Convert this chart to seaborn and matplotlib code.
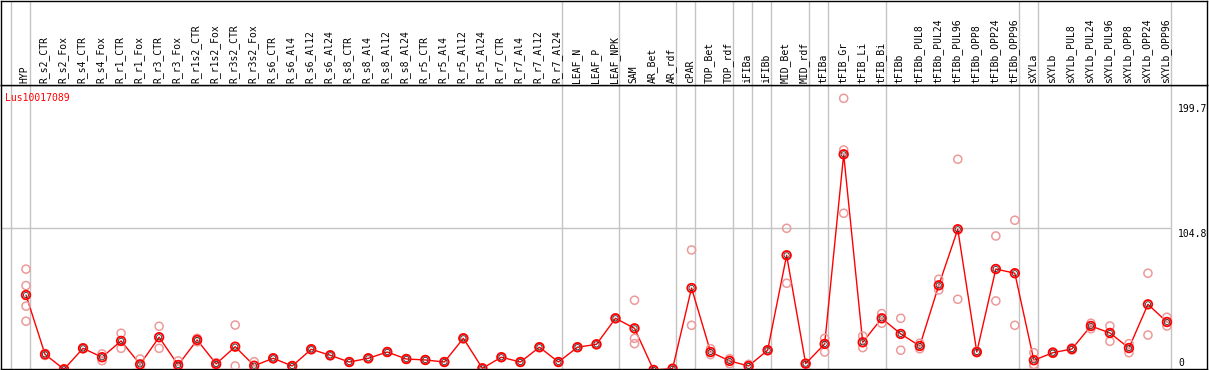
import numpy as np
import pandas as pd
import matplotlib
matplotlib.use("Agg")
import matplotlib.pyplot as plt
import seaborn as sns

# ---------------- data ----------------
samples = ["HYP", "R_s2_CTR", "R_s2_Fox", "R_s4_CTR", "R_s4_Fox", "R_r1_CTR", "R_r1_Fox",
           "R_r3_CTR", "R_r3_Fox", "R_r1s2_CTR", "R_r1s2_Fox", "R_r3s2_CTR", "R_r3s2_Fox",
           "R_s6_CTR", "R_s6_Al4", "R_s6_Al12", "R_s6_Al24", "R_s8_CTR", "R_s8_Al4",
           "R_s8_Al12", "R_s8_Al24", "R_r5_CTR", "R_r5_Al4", "R_r5_Al12", "R_r5_Al24",
           "R_r7_CTR", "R_r7_Al4", "R_r7_Al12", "R_r7_Al24", "LEAF_N", "LEAF_P", "LEAF_NPK",
           "SAM", "AR_Bet", "AR_rdf", "cPAR", "TOP_Bet", "TOP_rdf", "iFIBa", "iFIBb",
           "MID_Bet", "MID_rdf", "tFIBa", "tFIB_Gr", "tFIB_Li", "tFIB_Bi", "tFIBb",
           "tFIBb_PUL8", "tFIBb_PUL24", "tFIBb_PUL96", "tFIBb_OPP8", "tFIBb_OPP24",
           "tFIBb_OPP96", "sXYLa", "sXYLb", "sXYLb_PUL8", "sXYLb_PUL24", "sXYLb_PUL96",
           "sXYLb_OPP8", "sXYLb_OPP24", "sXYLb_OPP96"]

means = [56.1, 12.8, 1.9, 17.2, 10.7, 22.6, 5.5, 25.3, 5.0, 23.3, 5.8, 18.4, 4.5,
         9.9, 4.3, 16.5, 12.1, 7.2, 9.9, 14.5, 9.4, 8.7, 7.2, 24.5, 2.6,
         10.7, 7.2, 18.0, 7.2, 18.0, 20.1, 39.1,
         31.8, 1.4, 2.3, 61.2, 14.5, 8.0, 4.3, 15.8,
         85.1, 6.0, 20.4, 158.8, 21.6, 39.1, 27.7,
         18.9, 63.2, 104.1, 14.5, 75.1,
         72.0, 8.5, 14.0, 16.7, 33.5, 28.4,
         17.4, 49.3, 36.4]

replicates = [[75.0, 63.0, 48.0, 37.0], [13.5, 12.0], [1.9, 1.5], [17.5, 17.0], [13.1, 8.2],
              [28.2, 17.2], [9.4, 1.8], [33.3, 17.2], [8.0, 1.9], [24.5, 22.0], [6.7, 5.0],
              [34.2, 4.3], [7.4, 1.6], [10.2, 9.6], [4.5, 4.1], [16.8, 16.2], [12.4, 11.8],
              [7.4, 7.0], [10.1, 9.7], [14.8, 14.2], [9.6, 9.2], [8.9, 8.5], [7.4, 7.0],
              [24.8, 24.2], [2.8, 2.4], [10.9, 10.5], [7.4, 7.0], [18.2, 17.8], [7.4, 7.0],
              [18.2, 17.8], [20.3, 19.9], [39.3, 38.9],
              [52.3, 24.5, 20.6], [1.6, 1.2], [2.5, 2.1], [89.0, 34.0], [16.9, 12.6],
              [9.6, 6.0], [5.5, 3.5], [16.1, 15.5],
              [104.8, 64.7], [6.3, 5.7], [24.5, 14.5], [199.7, 162.0, 115.8], [26.2, 17.7],
              [42.5, 35.5], [39.1, 15.8],
              [20.9, 16.9], [67.6, 59.8], [155.2, 53.0], [15.0, 14.0], [99.2, 51.8],
              [110.7, 34.0], [14.0, 5.5, 4.8], [14.5, 13.5], [17.5, 16.0], [35.5, 31.5],
              [33.5, 22.3], [20.6, 14.0], [72.0, 26.9], [39.9, 33.5]]

group_ends = [-1, 0, 28, 31, 34, 35, 37, 38, 39, 41, 42, 45, 52, 53, 60]
gene = "Lus10017089"
tick_values = [0, 104.8, 199.7]
tick_labels = ["0", "104.8", "199.7"]

# ---------------- style ----------------
sns.set_theme(style="white")
plt.rcParams["font.family"] = ["DejaVu Sans Mono", "DejaVu Sans"]

W, H = 1209, 370
fig = plt.figure(figsize=(W / 100, H / 100), dpi=100)


def px_axes(l, t, r, b):
    return fig.add_axes([l / W, 1 - b / H, (r - l) / W, (b - t) / H])


ax = px_axes(1, 85, 1207, 369)
hax = px_axes(1, 0.5, 1207, 85)

x0px, step = 26.0, 19.016
xlim = ((1 - x0px) / step, (1207 - x0px) / step)
for a in (ax, hax):
    a.set_xlim(*xlim)
    a.set_xticks([])
    a.set_yticks([])
    a.set_facecolor("white")
    for sp in a.spines.values():
        sp.set_visible(True)
        sp.set_color("black")
        sp.set_linewidth(1.0)
hax.set_ylim(0, 1)
ax.set_ylim(2.1, 209.4)

grid_c = "#c4c4c4"
seps = [e + 0.2 for e in group_ends]
for s in seps:
    ax.axvline(s, color=grid_c, lw=1.0, zorder=0)
    hax.axvline(s, color=grid_c, lw=1.0, zorder=0)
ax.hlines(tick_values[1], xlim[0], seps[-1], color=grid_c, lw=1.0, zorder=0)

idx = np.arange(len(samples))
df_mean = pd.DataFrame({"pos": idx, "value": means})
rep_pos, rep_val = [], []
for i, reps in enumerate(replicates):
    for v in reps:
        rep_pos.append(i)
        rep_val.append(v)
df_rep = pd.DataFrame({"pos": rep_pos, "value": rep_val})

sns.lineplot(data=df_mean, x="pos", y="value", color="#ff0000", lw=1.0, ax=ax, zorder=2)
sns.scatterplot(data=df_rep, x="pos", y="value", ax=ax, marker="o", s=34,
                facecolor="none", edgecolor="#ec9a9a", linewidth=1.1, zorder=3)
sns.scatterplot(data=df_mean, x="pos", y="value", ax=ax, marker="o", s=38,
                facecolor="none", edgecolor="#ff0000", linewidth=1.3, zorder=4)
sns.scatterplot(data=df_mean, x="pos", y="value", ax=ax, marker="o", s=14,
                facecolor="none", edgecolor="#303030", linewidth=0.6, zorder=5)
ax.set_xlabel("")
ax.set_ylabel("")
ax.set_xlim(*xlim)
ax.set_ylim(2.1, 209.4)

# header labels
htr = hax.get_xaxis_transform()
for i, s in enumerate(samples):
    hax.text(i - 0.06, 0.02, s, rotation=90, ha="center", va="bottom",
             fontsize=7, color="black", transform=htr)

# gene name
ax.text(4 / 1206, 1 - 13 / 284, gene, transform=ax.transAxes, ha="left", va="center",
        fontsize=7, color="#ff0000")

# right-hand value labels
ytr = ax.get_yaxis_transform()
xlab = (1178 - 1) / 1206
offsets = {0: (0, 0.8, "bottom"), 1: (0, -0.5, "top"), 2: (0, -4.0, "top")}
for k, (v, lab) in enumerate(zip(tick_values, tick_labels)):
    dx, dy, va = offsets[k]
    yv = max(v, ax.get_ylim()[0])
    ax.annotate(lab, xy=(xlab, yv), xycoords=ytr, xytext=(dx, dy),
                textcoords="offset points", ha="left", va=va, fontsize=7, color="black")

fig.savefig("out.png", dpi=100)
